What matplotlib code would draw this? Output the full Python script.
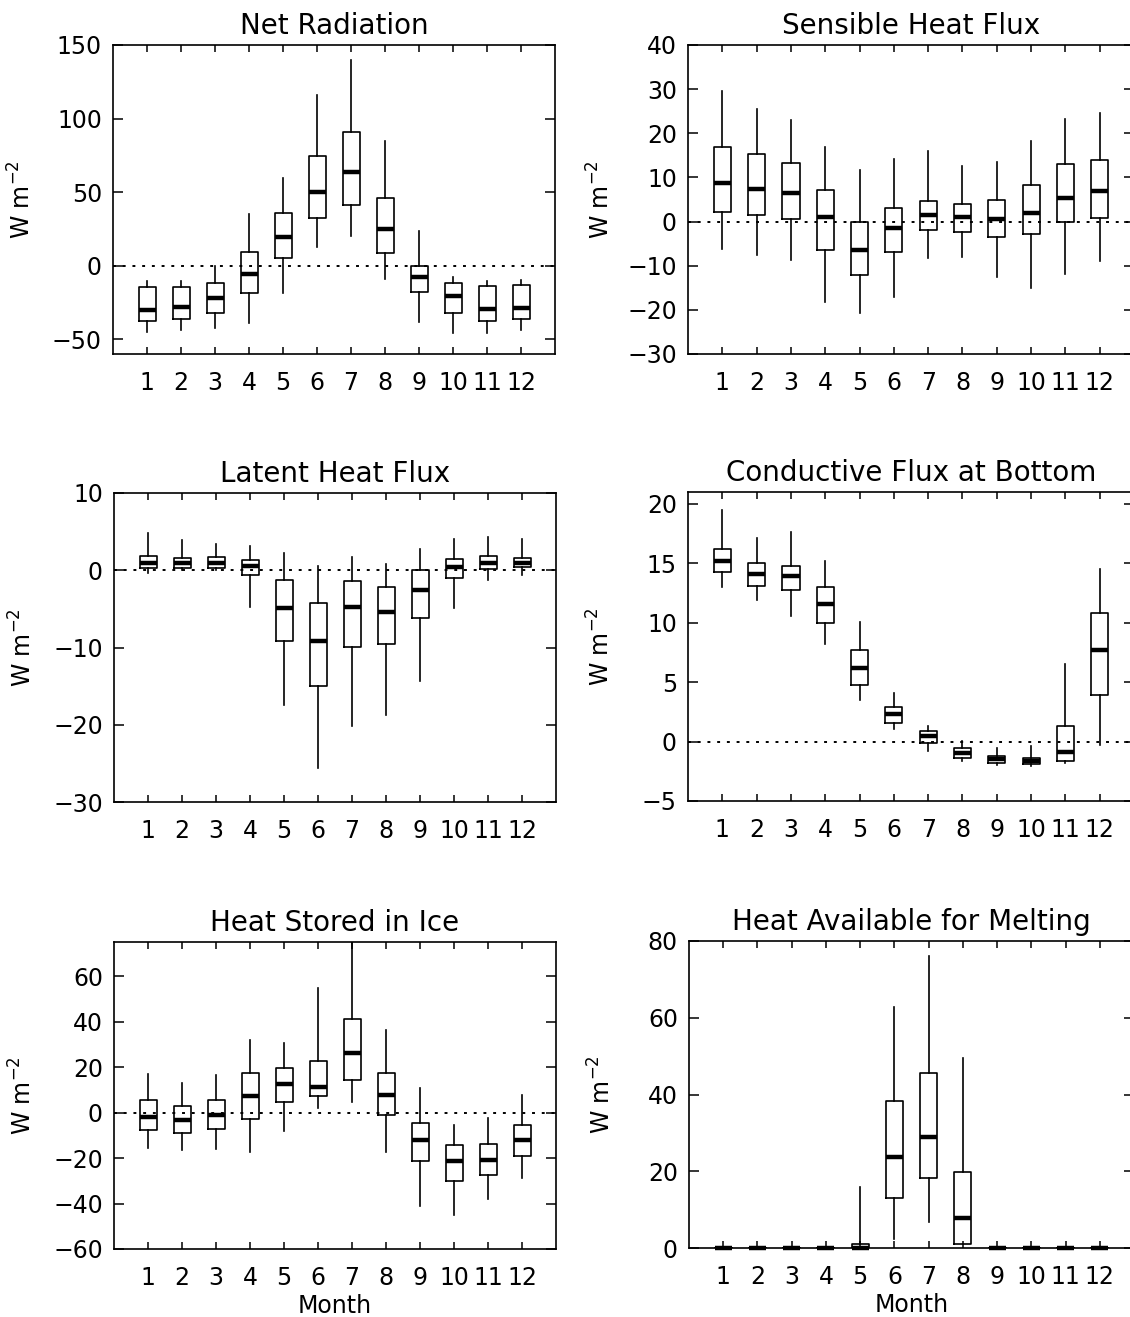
import matplotlib
matplotlib.use('Agg')
import matplotlib.pyplot as plt

months = list(range(1, 13))
month_labels = [str(m) for m in months]

# each panel: whisker low, lower quartile, median, upper quartile, whisker high (W m-2)
net_lo = [-45.2, -43.4, -42.2, -38.8, -18.3, 12.6, 20.5, -9.1, -38.4, -45.7, -45.7, -43.4]
net_q1 = [-37.7, -36.5, -32.4, -18.7, 5.3, 32.4, 41.6, 8.7, -17.8, -32.4, -37.7, -36.5]
net_med = [-30.1, -28.3, -21.9, -5.5, 19.4, 49.8, 63.5, 25.1, -7.5, -20.5, -29.2, -28.5]
net_q3 = [-14.2, -14.2, -11.6, 9.6, 35.8, 74.9, 90.6, 45.7, 0.0, -11.9, -13.7, -13.0]
net_hi = [-10.3, -10.3, 0.0, 35.4, 59.8, 115.8, 139.7, 84.5, 23.7, -8.0, -10.3, -9.8]

sens_lo = [-6.2, -7.5, -8.6, -18.3, -20.6, -17.0, -8.3, -8.0, -12.5, -15.1, -11.9, -9.0]
sens_q1 = [2.2, 1.4, 0.6, -6.4, -12.0, -7.0, -1.9, -2.4, -3.4, -2.9, -0.2, 0.9]
sens_med = [8.7, 7.3, 6.4, 1.1, -6.4, -1.4, 1.4, 1.0, 0.6, 2.0, 5.4, 7.0]
sens_q3 = [17.0, 15.2, 13.3, 7.2, 0.0, 3.1, 4.6, 3.9, 4.8, 8.3, 13.0, 13.9]
sens_hi = [29.6, 25.6, 23.1, 16.9, 11.7, 14.2, 16.1, 12.7, 13.4, 18.3, 23.3, 24.5]

lat_lo = [-0.3, 0.0, 0.0, -4.7, -17.5, -25.6, -20.2, -18.8, -14.4, -4.9, -1.3, -0.6]
lat_q1 = [0.26, 0.3, 0.35, -0.65, -9.2, -15.0, -9.9, -9.5, -6.2, -1.0, 0.2, 0.4]
lat_med = [0.9, 0.9, 0.95, 0.6, -4.9, -9.1, -4.7, -5.4, -2.6, 0.4, 0.95, 0.95]
lat_q3 = [1.9, 1.55, 1.7, 1.3, -1.2, -4.2, -1.4, -2.2, 0.0, 1.4, 1.8, 1.6]
lat_hi = [4.8, 3.9, 3.4, 3.1, 2.2, 0.5, 1.7, 0.8, 2.8, 4.0, 4.3, 4.1]

cond_lo = [13.0, 11.9, 10.6, 8.2, 3.5, 1.1, -0.8, -1.6, -2.0, -2.05, -1.8, -0.3]
cond_q1 = [14.3, 13.1, 12.75, 10.0, 4.8, 1.6, -0.15, -1.35, -1.8, -1.85, -1.6, 3.9]
cond_med = [15.2, 14.1, 13.9, 11.6, 6.2, 2.3, 0.5, -0.95, -1.5, -1.6, -0.9, 7.7]
cond_q3 = [16.2, 15.0, 14.8, 13.0, 7.7, 2.9, 0.85, -0.5, -1.2, -1.35, 1.3, 10.8]
cond_hi = [19.5, 17.1, 17.6, 15.2, 10.1, 4.1, 1.3, 0.05, -0.5, -0.4, 6.5, 14.5]

ice_lo = [-15.8, -16.5, -16.2, -17.5, -8.2, 1.8, 4.7, -17.2, -41.0, -45.0, -38.1, -28.6]
ice_q1 = [-7.7, -9.2, -7.4, -2.9, 4.8, 7.2, 14.5, -1.2, -21.3, -29.9, -27.4, -19.0]
ice_med = [-1.9, -3.4, -0.9, 7.3, 12.7, 11.2, 26.3, 7.9, -12.1, -21.5, -20.9, -12.1]
ice_q3 = [5.4, 2.9, 5.7, 17.5, 19.7, 22.6, 41.3, 17.5, -4.4, -14.3, -13.9, -5.3]
ice_hi = [17.1, 13.0, 16.6, 31.7, 30.5, 54.7, 78.0, 36.4, 11.0, -5.5, -2.6, 7.9]

melt_lo = [0, 0, 0, 0, 0, 2.4, 6.8, 1.0, 0, 0, 0, 0]
melt_q1 = [0, 0, 0, 0, 0, 12.9, 18.2, 1.1, 0, 0, 0, 0]
melt_med = [0, 0, 0, 0, 0, 23.8, 28.9, 7.7, 0, 0, 0, 0]
melt_q3 = [0, 0, 0, 0, 1.1, 38.4, 45.5, 19.7, 0, 0, 0, 0]
melt_hi = [0, 0, 0, 0, 16.0, 62.9, 76.1, 49.6, 0, 0, 0, 0]

W, H = 1130, 1317
fig = plt.figure(figsize=(W / 100, H / 100), dpi=100)


def px_axes(left, top, right, bottom):
    return fig.add_axes([left / W, 1 - bottom / H, (right - left) / W, (bottom - top) / H])


def draw_panel(ax, lo, q1, med, q3, hi, title, ylim, yticks, lab_x, zero_line=True, xlabel=None):
    stats = [dict(whislo=a, q1=b, med=c, q3=d, whishi=e, fliers=[])
             for a, b, c, d, e in zip(lo, q1, med, q3, hi)]
    if zero_line:
        ax.axhline(0, color='black', lw=1.4, ls=(0, (1.5, 3.5)), zorder=1)
    art = ax.bxp(stats, positions=months, widths=0.5, showcaps=False, showfliers=False,
                 manage_ticks=False,
                 boxprops=dict(color='black', lw=1.2),
                 whiskerprops=dict(color='black', lw=1.2),
                 medianprops=dict(color='black', lw=3.2, solid_capstyle='butt'))
    for m in art['medians']:
        m.set_clip_on(False)
        m.set_zorder(3)
    ax.set_xlim(0, 13)
    ax.set_ylim(*ylim)
    ax.set_xticks(months)
    ax.set_xticklabels(month_labels)
    ax.set_yticks(yticks)
    ax.set_yticklabels([str(t).replace('-', '\u2212') for t in yticks])
    ax.tick_params(direction='in', top=True, right=True, width=1.1, labelsize=17)
    ax.tick_params(axis='x', pad=12, length=5)
    ax.tick_params(axis='y', pad=8, length=7)
    for s in ax.spines.values():
        s.set_linewidth(1.2)
    ax.set_title(title, fontsize=20, pad=8)
    ax.set_ylabel('W m$^{-2}$', fontsize=17)
    ax.yaxis.set_label_coords(lab_x, 0.5)
    if xlabel:
        ax.set_xlabel(xlabel, fontsize=17, labelpad=3)


ax1 = px_axes(113, 45, 555, 354)
draw_panel(ax1, net_lo, net_q1, net_med, net_q3, net_hi, 'Net Radiation',
           (-60, 150), [-50, 0, 50, 100, 150], -0.175)
ax2 = px_axes(688, 45, 1134, 354)
draw_panel(ax2, sens_lo, sens_q1, sens_med, sens_q3, sens_hi, 'Sensible Heat Flux',
           (-30, 40), [-30, -20, -10, 0, 10, 20, 30, 40], -0.164)
ax3 = px_axes(114, 493, 556, 802)
draw_panel(ax3, lat_lo, lat_q1, lat_med, lat_q3, lat_hi, 'Latent Heat Flux',
           (-30, 10), [-30, -20, -10, 0, 10], -0.175)
ax4 = px_axes(688, 492, 1134, 801)
draw_panel(ax4, cond_lo, cond_q1, cond_med, cond_q3, cond_hi, 'Conductive Flux at Bottom',
           (-5, 21), [-5, 0, 5, 10, 15, 20], -0.164)
ax5 = px_axes(114, 942, 556, 1249)
draw_panel(ax5, ice_lo, ice_q1, ice_med, ice_q3, ice_hi, 'Heat Stored in Ice',
           (-60, 75), [-60, -40, -20, 0, 20, 40, 60], -0.175, xlabel='Month')
ax6 = px_axes(689, 941, 1134, 1248)
draw_panel(ax6, melt_lo, melt_q1, melt_med, melt_q3, melt_hi, 'Heat Available for Melting',
           (0, 80), [0, 20, 40, 60, 80], -0.164, zero_line=False, xlabel='Month')

fig.savefig('out.png', dpi=100)
